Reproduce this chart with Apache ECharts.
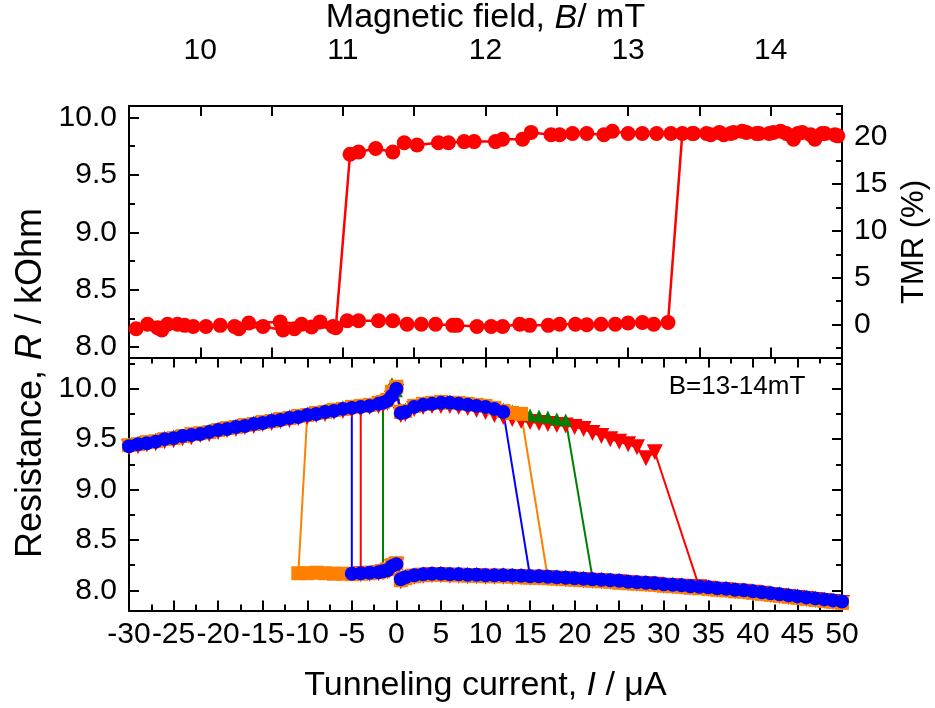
<!DOCTYPE html>
<html><head><meta charset="utf-8">
<script src="https://cdn.jsdelivr.net/npm/echarts@6/dist/echarts.min.js"></script>
<style>html,body{margin:0;padding:0;background:#fff}#c{width:935px;height:708px}</style>
</head><body><div id="c"></div>
<script>
const _ = null;
// ---------- Top panel: R vs magnetic field (hysteresis loop) ----------
const fieldDownB = [14.47,14.36,14.31,14.22,14.16,14.07,13.99,13.90,13.80,13.74,13.67,13.58,13.45,13.30,13.20,13.10,13.00,12.89,12.83,12.71,12.61,12.52,12.46,12.32,12.26,12.12,12.07,11.92,11.85,11.74,11.67,11.52,11.43,11.35,11.23,11.11,11.05,10.95,10.78,10.66,10.58,10.44,10.27,10.14,9.95,9.73,9.70,9.55];
const fieldDownR = [9.84,9.86,9.81,9.87,9.81,9.88,9.86,9.86,9.88,9.87,9.85,9.85,9.86,9.86,9.86,9.86,9.86,9.88,9.85,9.86,9.86,9.85,9.85,9.87,9.81,9.81,9.79,9.79,9.79,9.78,9.78,9.76,9.78,9.70,9.73,9.70,9.68,8.17,8.175,8.16,8.15,8.18,8.16,8.19,8.18,8.15,8.17,8.16];
const fieldUpB = [9.63,9.77,9.84,9.89,10.04,10.24,10.34,10.56,10.71,10.84,10.93,11.03,11.11,11.25,11.35,11.45,11.55,11.65,11.77,11.80,11.94,12.04,12.12,12.24,12.31,12.44,12.52,12.63,12.71,12.81,12.91,13.00,13.10,13.18,13.28,13.38,13.46,13.55,13.64,13.72,13.83,13.92,14.02,14.11,14.19,14.28,14.38,14.45];
const fieldUpR = [8.20,8.20,8.20,8.19,8.18,8.18,8.21,8.22,8.20,8.22,8.18,8.23,8.23,8.23,8.23,8.20,8.20,8.20,8.19,8.19,8.18,8.18,8.18,8.20,8.19,8.19,8.20,8.20,8.195,8.20,8.20,8.21,8.215,8.20,8.215,9.86,9.86,9.86,9.87,9.86,9.87,9.86,9.87,9.86,9.86,9.85,9.86,9.85];

// ---------- Bottom panel: R vs tunneling current ----------
const currentGrid = [-30,-29,-28,-27,-26,-25,-24,-23,-22,-21,-20,-19,-18,-17,-16,-15,-14,-13,-12,-11,-10,-9,-8,-7,-6,-5,-4,-3,-2,-1.5,-1,-0.5,0,0.5,
1,2,3,4,5,6,7,8,9,10,11,12,13,14,15,16,17,18,19,20,21,22,23,24,25,26,27,28,29,30,31,32,33,34,35,36,37,38,39,40,41,42,43,44,45,46,47,48,49,50];

const redHigh = [9.42,9.43,9.45,9.46,9.48,9.49,9.51,9.52,9.54,9.55,
9.57,9.59,9.60,9.62,9.63,9.65,9.66,9.68,9.69,9.71,
9.72,9.74,9.75,9.77,9.78,9.79,9.80,9.82,9.83,
9.84,9.86,9.90,9.97,9.74,
9.75,9.80,9.82,9.83,9.83,9.83,9.82,9.81,9.79,9.77,9.74,9.72,9.70,9.68,9.67,9.66,9.65,9.64,9.635,9.62,9.60,9.56,9.53,9.50,9.475,9.45,9.42,9.31,9.37,
_,_,_,_,_,_,_,_,_,_,_,_,_,_,_,_,_,_,_,_,_];
const redLow = [_,_,_,_,_,_,_,_,_,_,_,_,_,_,_,_,_,_,_,_,_,_,_,_,_,_,
8.16,8.165,8.17,
8.18,8.19,8.23,8.25,8.09,
8.115,8.135,8.145,8.15,8.15,8.145,8.145,8.14,8.14,8.135,
8.135,8.135,8.13,8.13,8.125,8.125,8.12,8.115,8.11,8.105,
8.10,8.095,8.09,8.085,8.08,8.07,8.065,8.06,8.055,8.045,
8.04,8.035,8.03,8.03,8.015,8.005,8.0,7.99,7.985,7.975,
7.965,7.955,7.945,7.935,7.925,7.915,7.905,7.895,7.885,7.875];

const greenHigh = [9.45,9.47,9.48,9.50,9.52,9.53,9.54,9.56,9.57,9.59,
9.61,9.62,9.64,9.65,9.67,9.68,9.70,9.71,9.73,9.74,
9.76,9.77,9.79,9.80,9.82,9.83,9.84,9.85,9.87,
9.88,9.90,10.05,9.98,9.79,
9.80,9.84,9.86,9.87,9.88,9.88,9.87,9.86,9.85,9.84,9.82,9.80,
9.78,9.76,9.74,9.73,9.72,9.70,9.69,
_,_,_,_,_,_,_,_,_,_,_,_,_,_,_,_,_,_,_,_,_,_,_,_,_,_,_,_,_,_,_];
const greenLow = [_,_,_,_,_,_,_,_,_,_,_,_,_,_,_,_,_,_,_,_,_,_,_,_,_,_,_,_,_,
8.21,8.22,8.26,8.28,8.13,
8.15,8.165,8.175,8.18,8.18,8.175,8.175,8.17,8.17,8.165,
8.165,8.165,8.16,8.16,8.155,8.155,8.15,8.145,8.14,8.135,
8.13,8.125,8.12,8.115,8.11,8.10,8.095,8.09,8.085,8.075,
8.07,8.065,8.055,8.05,8.045,8.035,8.03,8.02,8.015,8.005,
7.995,7.985,7.975,7.965,7.955,7.945,7.935,7.925,7.915,7.905];

const orangeHigh = [9.44,9.45,9.47,9.48,9.50,9.51,9.53,9.55,9.56,9.57,
9.59,9.61,9.62,9.64,9.65,9.67,9.68,9.70,9.71,9.73,
9.74,9.76,9.77,9.79,9.80,9.82,9.83,9.84,9.86,
9.87,9.89,9.97,10.02,9.77,
9.78,9.83,9.85,9.86,9.87,9.86,9.86,9.85,9.84,9.83,9.81,9.78,9.76,9.75,
_,_,_,_,_,_,_,_,_,_,_,_,_,_,_,_,_,_,_,_,_,_,_,_,_,_,_,_,_,_,_,_,_,_,_,_];
const orangeLow = [_,_,_,_,_,_,_,_,_,_,_,_,_,_,_,_,_,_,_,
8.17,8.17,8.175,8.17,8.165,8.165,8.16,8.165,8.17,8.18,
8.19,8.21,8.25,8.27,8.10,
8.12,8.14,8.15,8.155,8.155,8.15,8.15,8.145,8.145,8.14,
8.14,8.14,8.135,8.13,8.125,8.125,8.12,8.115,8.11,8.105,
8.10,8.095,8.09,8.085,8.075,8.07,8.065,8.06,8.055,8.045,
8.04,8.035,8.025,8.02,8.015,8.005,8.0,7.99,7.985,7.975,
7.965,7.955,7.945,7.935,7.925,7.915,7.905,7.895,7.885,7.875];

const blueHigh = [9.43,9.45,9.46,9.475,9.50,9.51,9.53,9.54,9.55,9.57,
9.59,9.60,9.62,9.63,9.65,9.66,9.68,9.69,9.71,9.72,
9.74,9.75,9.77,9.78,9.80,9.81,9.82,9.83,9.85,
9.86,9.88,9.93,10.00,9.76,
9.77,9.82,9.84,9.85,9.86,9.86,9.85,9.84,9.83,9.82,9.80,9.77,
_,_,_,_,_,_,_,_,_,_,_,_,_,_,_,_,_,_,_,_,_,_,_,_,_,_,_,_,_,_,_,_,_,_,_,_,_,_];
const blueLow = [_,_,_,_,_,_,_,_,_,_,_,_,_,_,_,_,_,_,_,_,_,_,_,_,_,
8.165,8.17,8.175,8.18,
8.19,8.20,8.24,8.26,8.11,
8.13,8.15,8.16,8.165,8.165,8.16,8.16,8.155,8.155,8.15,
8.15,8.15,8.148,8.145,8.14,8.14,8.135,8.13,8.125,8.12,
8.115,8.11,8.105,8.10,8.095,8.085,8.08,8.075,8.07,8.06,
8.055,8.05,8.04,8.035,8.03,8.02,8.015,8.005,8.00,7.99,
7.98,7.97,7.96,7.95,7.94,7.93,7.92,7.91,7.90,7.89];

// switching: current where the up-sweep lands on the low branch, and where the down-sweep lands on the high branch
const seriesNames = ['red','green','orange','blue'];
const upJumpTo   = [34, 22, 17, 15];
const downJumpTo = [-4, -1.5, -10, -5];

// tick labels
const fieldTicks = [10, 11, 12, 13, 14];
const resistanceTicksTop = [8.0, 8.5, 9.0, 9.5, 10.0];
const resistanceTicksBottom = [8.0, 8.5, 9.0, 9.5, 10.0];
const tmrTicks = [0, 5, 10, 15, 20];
const annotation = 'B=13-14mT';

// ---------- build ----------
const FONT = '"Liberation Sans", Arial, Helvetica, sans-serif';
const COLORS = {red:'#ff0000', green:'#008000', orange:'#ff8000', blue:'#0000ff'};
const SYM = {red:'triangle', green:'triangle', orange:'rect', blue:'circle'};
const ROT = {red:180, green:0, orange:0, blue:0};
const SIZE = {red:16, green:13, orange:14, blue:14};
const branches = {
  red:[redHigh, redLow], green:[greenHigh, greenLow],
  orange:[orangeHigh, orangeLow], blue:[blueHigh, blueLow]
};
function pairs(grid, arr){const o=[];for(let i=0;i<grid.length;i++){if(arr[i]!=null)o.push([grid[i],arr[i]]);}return o;}
function zip(a,b){return a.map((v,i)=>[v,b[i]]);}
function valAt(arr,x){const i=currentGrid.indexOf(x);return arr[i];}

const AX = {color:'#000', width:2};
const TICK_FS = 30, NAME_FS = 34;
const labelBase = {color:'#000', fontFamily:FONT, fontSize:TICK_FS, showMinLabel:true, showMaxLabel:true, hideOverlap:false};
function minorList(ticks, step, lo, hi){
  const o=[]; for(const t of ticks){ if(t-step>=lo) o.push(+(t-step).toFixed(3)); }
  const last=ticks[ticks.length-1]; if(last+step<=hi) o.push(+(last+step).toFixed(3));
  return o;
}
const richName = {a:{fontFamily:FONT,fontSize:NAME_FS,color:'#000'},b:{fontFamily:FONT,fontSize:NAME_FS,fontStyle:'italic',color:'#000'}};

const topYmin = 7.91, topYmax = 10.10;
const botYmin = 7.80, botYmax = 10.31;
const tmrMin = -3.5, tmrMax = 23.3;

const grids = [
  {left:129, right:93, top:106, height:251.5},
  {left:129, right:93, top:357.5, height:253}
];

const xAxes = [
  {gridIndex:0, type:'value', position:'top', min:9.5, max:14.5, interval:0.5,
   axisLine:{onZero:false, lineStyle:AX}, axisTick:{inside:true,length:10,lineStyle:AX},
   axisLabel:Object.assign({}, labelBase, {customValues:fieldTicks, margin:40, formatter:v=>String(v)}),
   splitLine:{show:false},
   name:'{a|Magnetic field, }{b|B}{a|/ mT}', nameLocation:'middle', nameGap:62,
   nameTextStyle:{rich:richName}},
  {gridIndex:0, type:'value', position:'bottom', min:9.5, max:14.5, interval:0.5,
   axisLine:{onZero:false, lineStyle:AX}, axisTick:{inside:true,length:10,lineStyle:AX},
   axisLabel:{show:false}, splitLine:{show:false}},
  {gridIndex:1, type:'value', position:'bottom', min:-30, max:50, interval:5,
   axisLine:{onZero:false, lineStyle:AX}, axisTick:{inside:true,length:10,lineStyle:AX},
   minorTick:{show:true,splitNumber:2,length:6,lineStyle:AX},
   axisLabel:Object.assign({}, labelBase, {margin:9, formatter:v=>String(v)}),
   splitLine:{show:false}, minorSplitLine:{show:false},
   name:'{a|Tunneling current, }{b|I}{a| / μA}', nameLocation:'middle', nameGap:58,
   nameTextStyle:{rich:richName}},
  {gridIndex:1, type:'value', position:'top', min:-30, max:50, interval:5,
   axisLine:{onZero:false, lineStyle:AX}, axisTick:{inside:true,length:10,lineStyle:AX},
   minorTick:{show:true,splitNumber:2,length:6,lineStyle:AX},
   axisLabel:{show:false}, splitLine:{show:false}, minorSplitLine:{show:false}}
];

function yAx(grid, pos, min, max, ticks, showLabel, len, fmt){
  return {gridIndex:grid, type:'value', position:pos, min:min, max:max,
    axisLine:{show:true, onZero:false, lineStyle:AX},
    axisTick:{show:true, inside:true, length:len, lineStyle:AX, customValues:ticks},
    axisLabel: showLabel ? Object.assign({}, labelBase, {customValues:ticks, margin:12, formatter:fmt}) : {show:false},
    splitLine:{show:false}};
}
const f1 = v=>v.toFixed(1);
const f0 = v=>String(Math.round(v));
const yAxes = [
  yAx(0,'left',topYmin,topYmax,resistanceTicksTop,true,10,f1),
  yAx(0,'left',topYmin,topYmax,minorList(resistanceTicksTop,0.25,topYmin,topYmax),false,6),
  yAx(0,'right',tmrMin,tmrMax,tmrTicks,true,10,f0),
  yAx(0,'right',tmrMin,tmrMax,minorList(tmrTicks,2.5,tmrMin,tmrMax),false,6),
  yAx(1,'left',botYmin,botYmax,resistanceTicksBottom,true,10,f1),
  yAx(1,'left',botYmin,botYmax,minorList(resistanceTicksBottom,0.25,botYmin,botYmax),false,6),
  yAx(1,'right',botYmin,botYmax,resistanceTicksBottom,false,10),
  yAx(1,'right',botYmin,botYmax,minorList(resistanceTicksBottom,0.25,botYmin,botYmax),false,6)
];

const series = [];
[[fieldDownB, fieldDownR],[fieldUpB, fieldUpR]].forEach(([b,r])=>{
  series.push({type:'line', xAxisIndex:0, yAxisIndex:0, data:zip(b,r),
    symbol:'circle', symbolSize:15, itemStyle:{color:'#ff0000'},
    lineStyle:{color:'#ff0000', width:2.5}, animation:false});
});
seriesNames.forEach((n,k)=>{
  const [hi, lo] = branches[n];
  const common = {type:'line', xAxisIndex:2, yAxisIndex:4, animation:false,
    symbol:SYM[n], symbolRotate:ROT[n], symbolSize:SIZE[n],
    itemStyle:{color:COLORS[n]}, lineStyle:{color:COLORS[n], width:2}};
  const hiPts = pairs(currentGrid, hi), loPts = pairs(currentGrid, lo);
  series.push(Object.assign({}, common, {data:hiPts}));
  series.push(Object.assign({}, common, {data:loPts}));
  const a = hiPts[hiPts.length-1];
  series.push({type:'line', xAxisIndex:2, yAxisIndex:4, animation:false, symbol:'none',
    lineStyle:{color:COLORS[n], width:2},
    data:[a, [upJumpTo[k], valAt(lo, upJumpTo[k])]]});
  const b = loPts[0];
  series.push({type:'line', xAxisIndex:2, yAxisIndex:4, animation:false, symbol:'none',
    lineStyle:{color:COLORS[n], width:2},
    data:[b, [downJumpTo[k], valAt(hi, downJumpTo[k])]]});
});

const chart = echarts.init(document.getElementById('c'), null, {renderer:'canvas'});
chart.setOption({
  animation:false,
  backgroundColor:'#fff',
  grid:grids, xAxis:xAxes, yAxis:yAxes, series:series,
  graphic:[
    {type:'text', x:31, y:383, rotation:Math.PI/2,
     style:{text:'{a|Resistance, }{b|R}{a| / kOhm}', align:'center', verticalAlign:'middle',
       rich:{a:{fontFamily:FONT,fontSize:36,fill:'#000'},b:{fontFamily:FONT,fontSize:36,fontStyle:'italic',fill:'#000'}}}},
    {type:'text', x:914, y:242, rotation:Math.PI/2,
     style:{text:'TMR (%)', align:'center', verticalAlign:'middle', fontFamily:FONT, fontSize:31, fill:'#000'}},
    {type:'text', x:737, y:387,
     style:{text:annotation, align:'center', verticalAlign:'middle', fontFamily:FONT, fontSize:26, fill:'#000'}}
  ]
});
</script></body></html>
